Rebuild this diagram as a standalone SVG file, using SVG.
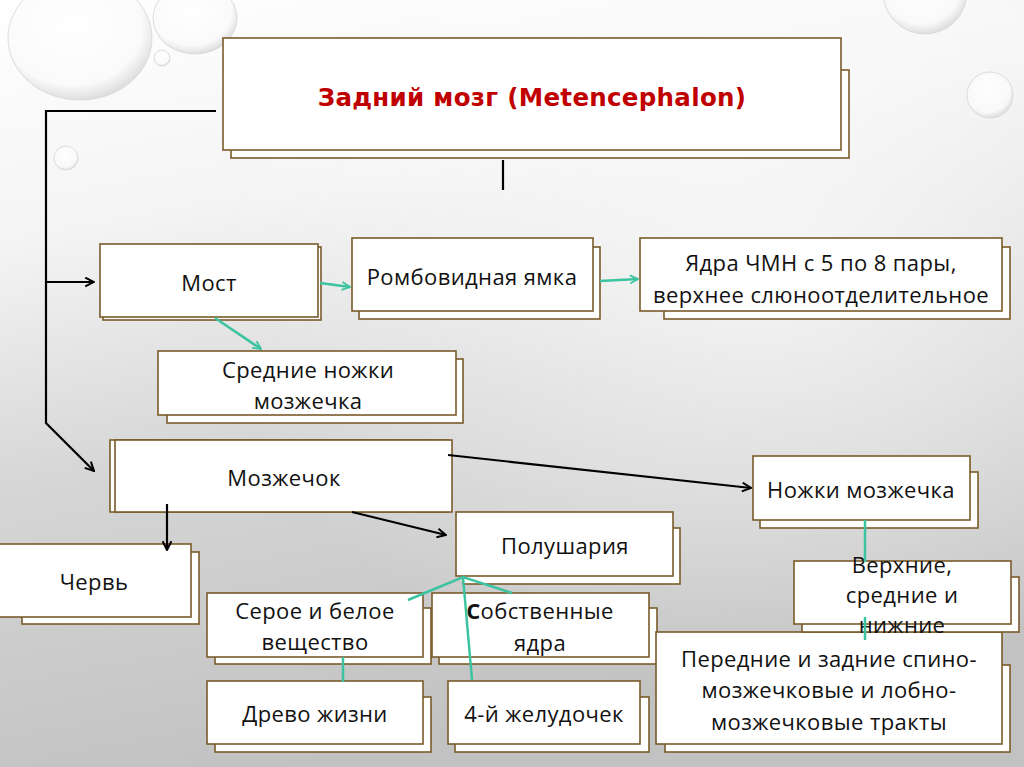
<svg xmlns="http://www.w3.org/2000/svg" width="1024" height="767" viewBox="0 0 1024 767">
<defs>
<linearGradient id="bg" x1="0" y1="0" x2="0.25" y2="1">
<stop offset="0" stop-color="#ffffff"/>
<stop offset="0.3" stop-color="#f4f4f4"/>
<stop offset="0.6" stop-color="#d6d6d6"/>
<stop offset="1" stop-color="#c2c2c2"/>
</linearGradient>
<radialGradient id="glow" cx="0.75" cy="0.35" r="0.55">
<stop offset="0" stop-color="#ffffff" stop-opacity="0.7"/>
<stop offset="1" stop-color="#ffffff" stop-opacity="0"/>
</radialGradient>
<radialGradient id="drop" cx="0.45" cy="0.4" r="0.6">
<stop offset="0" stop-color="#ffffff" stop-opacity="0.9"/>
<stop offset="0.8" stop-color="#fafafa" stop-opacity="0.8"/>
<stop offset="1" stop-color="#d8d8d8" stop-opacity="0.8"/>
</radialGradient>
<marker id="ab" viewBox="0 0 10 10" refX="9" refY="5" markerWidth="11" markerHeight="11" markerUnits="userSpaceOnUse" orient="auto">
<path d="M1,1 L9,5 L1,9" fill="none" stroke="#000" stroke-width="1.8"/>
</marker>
<marker id="at" viewBox="0 0 10 10" refX="9" refY="5" markerWidth="10" markerHeight="10" markerUnits="userSpaceOnUse" orient="auto">
<path d="M1,1 L9,5 L1,9" fill="none" stroke="#3cc3a0" stroke-width="1.8"/>
</marker>
</defs>
<style>
.box{fill:#ffffff;stroke:#7a5a2a;stroke-width:1.6}
.t{font-family:"Open Sans","Noto Sans",sans-serif;font-size:22px;letter-spacing:0.4px;fill:#111;text-anchor:middle}
.title{font-family:"DejaVu Sans","Liberation Sans",sans-serif;font-weight:bold;font-size:24.5px;letter-spacing:0.3px;fill:#c00000;text-anchor:middle}
.blk{stroke:#000;stroke-width:2.2;fill:none}
.teal{stroke:#3cc3a0;stroke-width:2.5;fill:none}
.dr{fill:url(#drop);stroke:#d4d4d4;stroke-width:0.8}
</style>
<rect width="1024" height="767" fill="url(#bg)"/>
<rect width="1024" height="767" fill="url(#glow)"/>
<g id="droplets">
<ellipse class="dr" cx="80" cy="38" rx="72" ry="62"/>
<ellipse class="dr" cx="195" cy="18" rx="42" ry="36"/>
<circle class="dr" cx="925" cy="-8" r="42"/>
<circle class="dr" cx="990" cy="95" r="23"/>
<circle class="dr" cx="66" cy="158" r="12"/>
<circle class="dr" cx="162" cy="58" r="8"/>
</g>

<g id="title">
<rect class="box" x="231" y="70" width="618" height="88"/>
<rect class="box" x="223" y="38" width="618" height="112"/>
<text class="title" x="532" y="106">Задний мозг (Metencephalon)</text>
</g>

<g id="most">
<rect class="box" x="103" y="247" width="218" height="73"/>
<rect class="box" x="100" y="244" width="218" height="73"/>
<text class="t" x="209" y="291">Мост</text>
</g>

<g id="romb">
<rect class="box" x="359" y="247" width="241" height="72"/>
<rect class="box" x="352" y="238" width="241" height="73"/>
<text class="t" x="472" y="285">Ромбовидная ямка</text>
</g>

<g id="yadra">
<rect class="box" x="664" y="247" width="346" height="72"/>
<rect class="box" x="640" y="238" width="362" height="73"/>
<text class="t" x="821" y="271">Ядра ЧМН с 5 по 8 пары,</text>
<text class="t" x="821" y="303">верхнее слюноотделительное</text>
</g>

<g id="srednie">
<rect class="box" x="167" y="359" width="296" height="64"/>
<rect class="box" x="158" y="351" width="298" height="64"/>
<text class="t" x="308" y="378">Средние ножки</text>
<text class="t" x="308" y="409">мозжечка</text>
</g>

<g id="mozzhechok">
<rect class="box" x="110" y="440" width="338" height="72"/>
<rect class="box" x="115" y="440" width="337" height="72"/>
<text class="t" x="284" y="486">Мозжечок</text>
</g>

<g id="chervy">
<rect class="box" x="22" y="552" width="177" height="72"/>
<rect class="box" x="-2" y="544" width="193" height="73"/>
<text class="t" x="94" y="590">Червь</text>
</g>

<g id="polushariya">
<rect class="box" x="463" y="528" width="217" height="56"/>
<rect class="box" x="456" y="512" width="217" height="64"/>
<text class="t" x="565" y="554">Полушария</text>
</g>

<g id="nozhki">
<rect class="box" x="760" y="472" width="218" height="56"/>
<rect class="box" x="753" y="456" width="217" height="64"/>
<text class="t" x="861" y="498">Ножки мозжечка</text>
</g>

<g id="seroe">
<rect class="box" x="215" y="608" width="216" height="56"/>
<rect class="box" x="207" y="593" width="216" height="64"/>
<text class="t" x="315" y="619">Серое и белое</text>
<text class="t" x="315" y="650">вещество</text>
</g>

<g id="sobstvennye">
<rect class="box" x="439" y="608" width="218" height="56"/>
<rect class="box" x="432" y="593" width="217" height="64"/>
<text class="t" x="540" y="619"><tspan font-weight="bold">С</tspan>обственные</text>
<text class="t" x="540" y="651">ядра</text>
</g>

<g id="drevo">
<rect class="box" x="215" y="697" width="216" height="55"/>
<rect class="box" x="207" y="681" width="216" height="63"/>
<text class="t" x="315" y="722">Древо жизни</text>
</g>

<g id="zheludochek">
<rect class="box" x="455" y="697" width="194" height="55"/>
<rect class="box" x="448" y="681" width="192" height="63"/>
<text class="t" x="544" y="722">4-й желудочек</text>
</g>

<g id="perednie">
<rect class="box" x="665" y="665" width="345" height="87"/>
<rect class="box" x="656" y="632" width="346" height="112"/>
<text class="t" x="829" y="667">Передние и задние спино-</text>
<text class="t" x="829" y="698">мозжечковые и лобно-</text>
<text class="t" x="829" y="730">мозжечковые тракты</text>
</g>

<g id="verkhnie">
<rect class="box" x="802" y="577" width="217" height="55"/>
<rect class="box" x="794" y="561" width="217" height="63"/>
<text class="t" x="902" y="573">Верхние,</text>
<text class="t" x="902" y="603">средние и</text>
<text class="t" x="902" y="633">нижние</text>
</g>

<g id="connectors">
<path class="blk" d="M216,111 L46,111 L46,423 L94,471" marker-end="url(#ab)"/>
<path class="blk" d="M46,282 L94,282" marker-end="url(#ab)"/>
<path class="blk" d="M503,160 L503,190"/>
<path class="teal" d="M320,283 L350,287" marker-end="url(#at)"/>
<path class="teal" d="M600,281 L638,279" marker-end="url(#at)"/>
<path class="teal" d="M215,318 L261,349" marker-end="url(#at)"/>
<path class="blk" d="M448,455 L751,488" marker-end="url(#ab)"/>
<path class="blk" d="M352,512 L446,535" marker-end="url(#ab)"/>
<path class="blk" d="M167,504 L167,550" marker-end="url(#ab)"/>
<path class="teal" d="M408,600 L463,577 L512,593 M463,577 L472,680"/>
<path class="teal" d="M343,657 L343,682"/>
<path class="teal" d="M865,520 L865,562"/>
<path class="teal" d="M865,617 L865,640"/>
</g>
</svg>
